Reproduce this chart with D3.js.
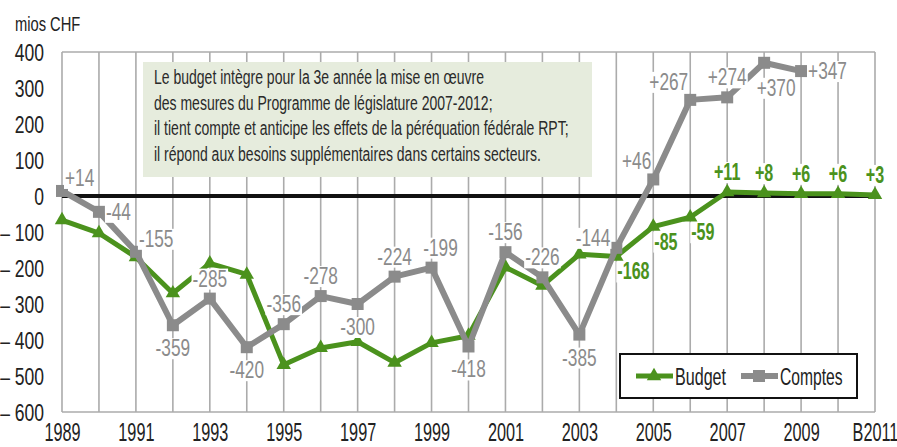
<!DOCTYPE html>
<html>
<head>
<meta charset="utf-8">
<script src="https://cdn.jsdelivr.net/npm/d3@7"></script>
<style>
  body { margin: 0; background: #fff; }
  svg { display: block; font-family: "Liberation Sans", Arial, sans-serif; }
</style>
</head>
<body>
<div id="chart"></div>
<script>
const categories = ["1989","1990","1991","1992","1993","1994","1995","1996","1997","1998","1999",
  "2000","2001","2002","2003","2004","2005","2006","2007","2008","2009","2010","B2011"];
const tickLabels = ["1989","1991","1993","1995","1997","1999","2001","2003","2005","2007","2009","B2011"];
const yTicks = [400, 300, 200, 100, 0, -100, -200, -300, -400, -500, -600];

const budget = [-67, -103, -170, -270, -187, -218, -469, -422, -405, -463, -408,
  -388, -198, -249, -162, -168, -85, -59, 11, 8, 6, 6, 3];
const comptes = [14, -44, -155, -359, -285, -420, -356, -278, -300, -224, -199,
  -418, -156, -226, -385, -144, 46, 267, 274, 370, 347];

// which budget points carry a label (index -> placement)
const budgetLabels = { 15: "br", 16: "br", 17: "br", 18: "a", 19: "a", 20: "a", 21: "a", 22: "a" };
const comptesLabels = ["ra", "r", "ra", "b", "a", "b", "a", "a", "b", "a", "as",
  "b", "a", "a", "b", "l", "la", "la", "a", "bs", "r"];

const note = [
  "Le budget intègre pour la 3e année la mise en œuvre",
  "des mesures du Programme de législature 2007-2012;",
  "il tient compte et anticipe les effets de la péréquation fédérale RPT;",
  "il répond aux besoins supplémentaires dans certains secteurs."
];

const W = 897, H = 447;
const green = "#4b921d", grey = "#8b8b8b";

// squeeze text horizontally to mimic the condensed face of the original
function narrow(sel, k) {
  sel.each(function() {
    const w = this.getComputedTextLength();
    d3.select(this).attr("textLength", w * k).attr("lengthAdjust", "spacingAndGlyphs");
  });
}

const svg = d3.select("#chart").append("svg").attr("width", W).attr("height", H);

const x = d3.scalePoint().domain(categories).range([62, 875]);
const y = d3.scaleLinear().domain([-600, 400]).range([412, 52]);

// vertical gridlines + frame
svg.append("g").selectAll("line").data(categories).join("line")
  .attr("x1", d => x(d)).attr("x2", d => x(d))
  .attr("y1", y(400)).attr("y2", y(-600))
  .attr("stroke", "#ababab").attr("stroke-width", 1.6);
svg.append("line").attr("x1", x("1989")).attr("x2", x("B2011"))
  .attr("y1", y(400)).attr("y2", y(400)).attr("stroke", "#ababab").attr("stroke-width", 1.6);
svg.append("line").attr("x1", x("1989")).attr("x2", x("B2011"))
  .attr("y1", y(-600)).attr("y2", y(-600)).attr("stroke", "#ababab").attr("stroke-width", 1.6);

// y axis
const yAxis = svg.append("g").attr("transform", "translate(47,0)")
  .call(d3.axisLeft(y).tickValues(yTicks).tickSize(0)
    .tickFormat(d => d < 0 ? "\u2013 " + (-d) : d));
yAxis.select(".domain").remove();
yAxis.selectAll("text").attr("font-size", 24).attr("fill", "#222").attr("dy", "0.36em")
  .attr("font-family", "Liberation Sans, Arial, sans-serif").call(narrow, 0.73);

// x axis
const xAxis = svg.append("g").attr("transform", `translate(0,${y(-600) + 4})`)
  .call(d3.axisBottom(x).tickValues(tickLabels).tickSize(0));
xAxis.select(".domain").remove();
xAxis.selectAll("text").attr("font-size", 25).attr("fill", "#222").attr("dy", "0.86em")
  .attr("font-family", "Liberation Sans, Arial, sans-serif").call(narrow, 0.65);

svg.append("text").attr("x", 15).attr("y", 31).attr("font-size", 21).attr("fill", "#222")
  .text("mios CHF").call(narrow, 0.7);

// annotation box
svg.append("rect").attr("x", 143).attr("y", 62).attr("width", 449).attr("height", 115).attr("fill", "#e6ecdd");
svg.append("g").selectAll("text").data(note).join("text")
  .attr("x", 154).attr("y", (d, i) => 84 + i * 25.5)
  .attr("font-size", 20).attr("fill", "#2a2a2a").text(d => d).call(narrow, 0.7);

// zero line
svg.append("line").attr("x1", x("1989")).attr("x2", x("B2011"))
  .attr("y1", y(0)).attr("y2", y(0)).attr("stroke", "#111").attr("stroke-width", 4);

const line = d3.line().x((d, i) => x(categories[i])).y(d => y(d));

// budget series
svg.append("path").datum(budget).attr("d", line)
  .attr("fill", "none").attr("stroke", green).attr("stroke-width", 5).attr("stroke-linejoin", "round");
svg.append("g").selectAll("path").data(budget).join("path")
  .attr("transform", (d, i) => `translate(${x(categories[i])},${y(d)})`)
  .attr("d", d3.symbol(d3.symbolTriangle, 90)).attr("fill", green);

// comptes series
svg.append("path").datum(comptes).attr("d", line)
  .attr("fill", "none").attr("stroke", grey).attr("stroke-width", 6).attr("stroke-linejoin", "round");
svg.append("g").selectAll("rect").data(comptes).join("rect")
  .attr("x", (d, i) => x(categories[i]) - 6).attr("y", d => y(d) - 6)
  .attr("width", 12).attr("height", 12).attr("fill", grey);

// data labels
const place = {
  a:  { dx: 0,   dy: -12, anchor: "middle" },
  as: { dx: 9,   dy: -12, anchor: "middle" },
  b:  { dx: 0,   dy: 31,  anchor: "middle" },
  bs: { dx: 12,  dy: 33,  anchor: "middle" },
  r:  { dx: 7,   dy: 8,   anchor: "start" },
  ra: { dx: 3,   dy: -5,  anchor: "start" },
  l:  { dx: -6,  dy: -2,  anchor: "end" },
  la: { dx: -2,  dy: -10, anchor: "end" },
  br: { dx: 1,   dy: 23,  anchor: "start" }
};
const fmt = v => (v > 0 ? "+" : "") + v;

function addLabel(cx, cy, text, p, color, weight) {
  const g = svg.append("g");
  const bg = g.append("rect").attr("fill", "#fff");
  const t = g.append("text").attr("x", cx + p.dx).attr("y", cy + p.dy)
    .attr("text-anchor", p.anchor).attr("font-size", 23).attr("font-weight", weight)
    .attr("fill", color).text(text).call(narrow, weight === "bold" ? 0.7 : 0.75);
  const bb = t.node().getBBox();
  bg.attr("x", bb.x - 1).attr("y", bb.y + 3).attr("width", bb.width + 2).attr("height", bb.height - 5);
}

comptes.forEach((v, i) => addLabel(x(categories[i]), y(v), fmt(v), place[comptesLabels[i]], grey, "normal"));
Object.entries(budgetLabels).forEach(([i, p]) =>
  addLabel(x(categories[i]), y(budget[i]), fmt(budget[i]), place[p], green, "bold"));

// legend
const lg = svg.append("g");
lg.append("rect").attr("x", 620).attr("y", 354).attr("width", 237).attr("height", 44)
  .attr("fill", "#fff").attr("stroke", "#111").attr("stroke-width", 2);
lg.append("line").attr("x1", 636).attr("x2", 673).attr("y1", 376).attr("y2", 376)
  .attr("stroke", green).attr("stroke-width", 5);
lg.append("path").attr("transform", "translate(654,376)").attr("d", d3.symbol(d3.symbolTriangle, 90)).attr("fill", green);
lg.append("text").attr("x", 675).attr("y", 385).attr("font-size", 23).attr("fill", "#222")
  .text("Budget").call(narrow, 0.7);
lg.append("line").attr("x1", 741).attr("x2", 778).attr("y1", 376).attr("y2", 376)
  .attr("stroke", grey).attr("stroke-width", 6);
lg.append("rect").attr("x", 753).attr("y", 370).attr("width", 12).attr("height", 12).attr("fill", grey);
lg.append("text").attr("x", 780).attr("y", 385).attr("font-size", 23).attr("fill", "#222")
  .text("Comptes").call(narrow, 0.68);
</script>
</body>
</html>
